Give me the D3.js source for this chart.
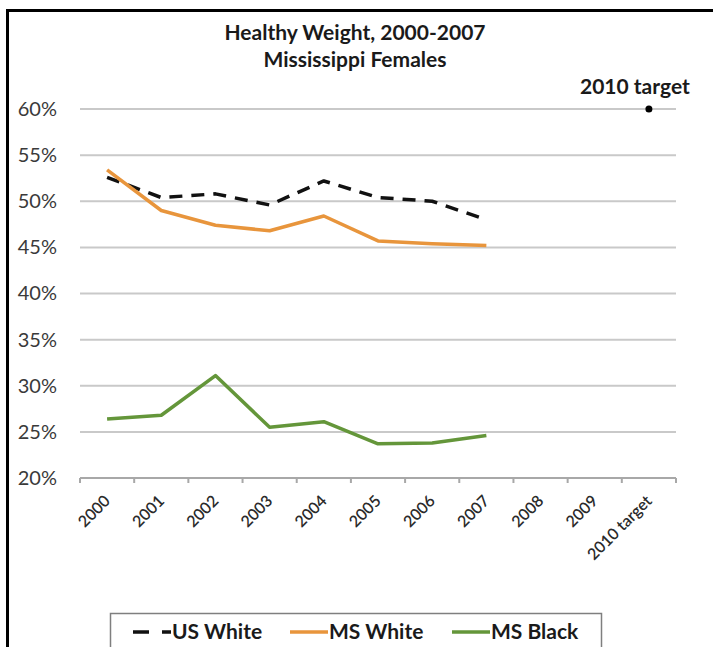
<!DOCTYPE html>
<html>
<head>
<meta charset="utf-8">
<script src="https://cdn.jsdelivr.net/npm/d3@7"></script>
<style>
  html, body { margin: 0; padding: 0; background: #fff; }
  svg { display: block; font-family: Lato, "Open Sans", sans-serif; }
</style>
</head>
<body>
<svg id="chart" width="713" height="647"></svg>
<script>
// Categories along the x axis
const categories = ["2000", "2001", "2002", "2003", "2004", "2005", "2006", "2007", "2008", "2009", "2010 target"];
const years = ["2000", "2001", "2002", "2003", "2004", "2005", "2006", "2007"];

// Percent of females at a healthy weight
const usWhite = [52.6, 50.4, 50.8, 49.6, 52.2, 50.4, 50.0, 48.0];
const msWhite = [53.4, 49.0, 47.4, 46.8, 48.4, 45.7, 45.4, 45.2];
const msBlack = [26.4, 26.8, 31.1, 25.5, 26.1, 23.7, 23.8, 24.6];
const targetCategory = "2010 target";
const targetValue = 60;

// Y axis ticks
const yTicks = [20, 25, 30, 35, 40, 45, 50, 55, 60];

const titleLines = ["Healthy Weight, 2000-2007", "Mississippi Females"];

const series = [
  { name: "US White", values: usWhite, color: "#111111", dash: "13,9" },
  { name: "MS White", values: msWhite, color: "#E8953C", dash: null },
  { name: "MS Black", values: msBlack, color: "#64963A", dash: null }
];

const svg = d3.select("#chart");

const x = d3.scaleBand().domain(categories).range([80, 676]).padding(0);
const y = d3.scaleLinear().domain([20, 60]).range([478, 109]);

// Outer frame (top and left edges)
svg.append("path")
  .attr("d", "M7.5,647 L7.5,10.5 L713,10.5")
  .attr("fill", "none")
  .attr("stroke", "#000")
  .attr("stroke-width", 3);

// Title
svg.append("g").selectAll("text")
  .data(titleLines)
  .join("text")
  .attr("x", 355)
  .attr("y", (d, i) => 40 + i * 27)
  .attr("text-anchor", "middle")
  .attr("font-size", 21)
  .attr("font-weight", 700)
  .attr("fill", "#1a1a1a")
  .text(d => d);

// Horizontal gridlines
svg.append("g").selectAll("line")
  .data(yTicks.filter(t => t > 20))
  .join("line")
  .attr("x1", x.range()[0])
  .attr("x2", x.range()[1])
  .attr("y1", d => y(d))
  .attr("y2", d => y(d))
  .attr("stroke", "#c9c9c9")
  .attr("stroke-width", 2);

// Y axis labels
const yAxis = d3.axisLeft(y)
  .tickValues(yTicks)
  .tickFormat(d => d + "%")
  .tickSize(0)
  .tickPadding(0);
const gy = svg.append("g").attr("transform", "translate(57,0)").call(yAxis);
gy.select(".domain").remove();
gy.selectAll("text")
  .attr("font-family", "Lato, 'Open Sans', sans-serif")
  .attr("font-size", 20)
  .attr("fill", "#3a3a3a");

// X axis with ticks at category boundaries
const gx = svg.append("g").attr("transform", "translate(0,478)");
gx.append("line")
  .attr("x1", x.range()[0])
  .attr("x2", x.range()[1])
  .attr("stroke", "#a8a8a8")
  .attr("stroke-width", 2);
gx.selectAll("line.tick")
  .data(categories.concat(["__end"]))
  .join("line")
  .attr("class", "tick")
  .attr("x1", d => d === "__end" ? x.range()[1] : x(d))
  .attr("x2", d => d === "__end" ? x.range()[1] : x(d))
  .attr("y1", 0)
  .attr("y2", 5)
  .attr("stroke", "#a8a8a8")
  .attr("stroke-width", 2);
gx.selectAll("text")
  .data(categories)
  .join("text")
  .attr("transform", d => `translate(${x(d) + x.bandwidth() / 2 + 4},${24}) rotate(-45)`)
  .attr("text-anchor", "end")
  .attr("font-size", 16)
  .attr("font-weight", 600)
  .attr("fill", "#2a2a2a")
  .text(d => d);

// Data lines
const line = d3.line()
  .x((d, i) => x(years[i]) + x.bandwidth() / 2)
  .y(d => y(d));

svg.append("g").selectAll("path")
  .data(series)
  .join("path")
  .attr("d", d => line(d.values))
  .attr("fill", "none")
  .attr("stroke", d => d.color)
  .attr("stroke-width", 3.5)
  .attr("stroke-linejoin", "round")
  .attr("stroke-dasharray", d => d.dash);

// 2010 target point and label
svg.append("circle")
  .attr("cx", x(targetCategory) + x.bandwidth() / 2)
  .attr("cy", y(targetValue))
  .attr("r", 3.5)
  .attr("fill", "#000");
svg.append("text")
  .attr("x", x(targetCategory) + x.bandwidth() / 2 - 14)
  .attr("y", 94)
  .attr("text-anchor", "middle")
  .attr("font-size", 21)
  .attr("font-weight", 700)
  .attr("fill", "#1a1a1a")
  .text("2010 target");

// Legend
const legend = svg.append("g");
legend.append("rect")
  .attr("x", 110.5)
  .attr("y", 613.5)
  .attr("width", 491)
  .attr("height", 40)
  .attr("fill", "#fff")
  .attr("stroke", "#7f7f7f")
  .attr("stroke-width", 1.5);

const legendX = [133, 290, 452];
const items = legend.selectAll("g.item")
  .data(series)
  .join("g")
  .attr("class", "item")
  .attr("transform", (d, i) => `translate(${legendX[i]},632)`);
items.append("line")
  .attr("x1", 0)
  .attr("x2", 38)
  .attr("stroke", d => d.color)
  .attr("stroke-width", 3.5)
  .attr("stroke-dasharray", d => d.dash ? "16,13" : null);
items.append("text")
  .attr("x", 39)
  .attr("dy", "0.35em")
  .attr("font-size", 21)
  .attr("font-weight", 700)
  .attr("fill", "#1a1a1a")
  .text(d => d.name);
</script>
</body>
</html>
